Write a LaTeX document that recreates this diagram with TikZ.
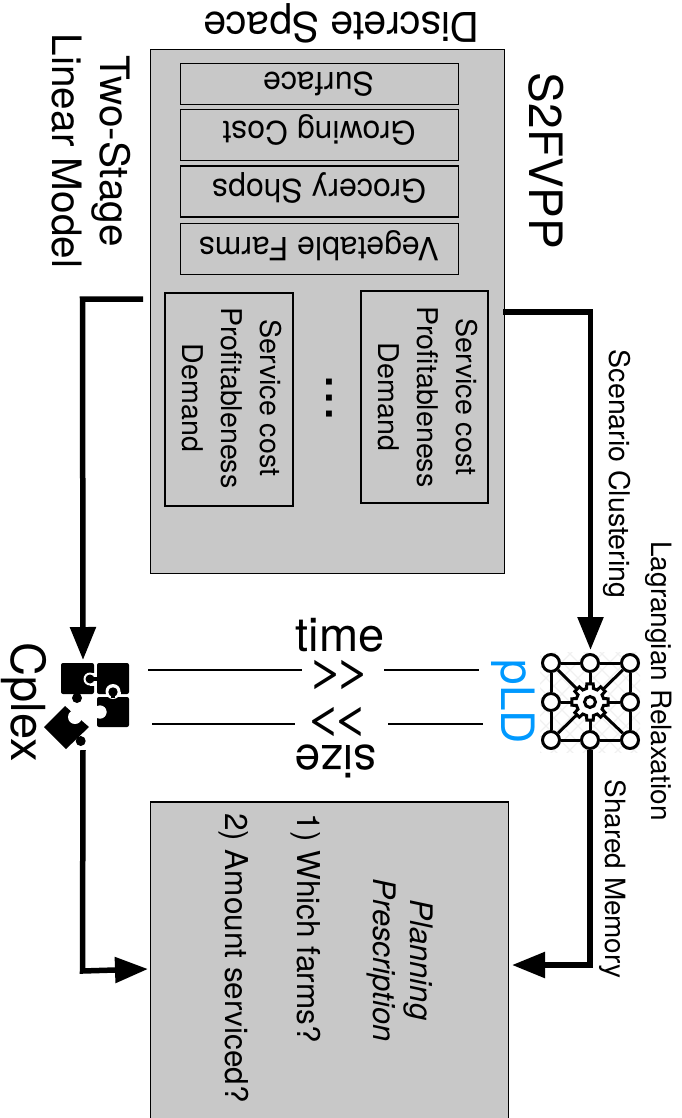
\documentclass[tikz,border=0pt]{standalone}
\usepackage{graphicx}
\usepackage{fontspec}
\setmainfont{TeX Gyre Heros}
\usetikzlibrary{arrows.meta}
\definecolor{boxgray}{RGB}{200,200,200}
\definecolor{pldblue}{RGB}{0,153,255}
\newcommand{\fs}[2]{\fontsize{#1}{#2}\selectfont}
\newcommand{\muchmore}{\scalebox{1.4}[1]{{>}\kern-8pt{>}}}
\tikzset{
  panel/.style={draw=black,line width=1.6pt,fill=boxgray,inner sep=0pt,outer sep=0pt,anchor=north west},
  strip/.style={panel},
  down/.style={rotate=-90,anchor=base,inner sep=0pt},
  flip/.style={rotate=180,anchor=base,inner sep=0pt},
  plain/.style={anchor=base,inner sep=0pt},
  flow/.style={line width=5.5pt,line join=miter,-{Triangle[length=33pt,width=25pt]}},
  rule/.style={line width=2pt},
  hub/.style={circle,draw=black,line width=3pt,fill=white,minimum size=17pt,inner sep=0pt},
  web/.style={line width=3pt},
  piece/.style={fill=black}
}
\begin{document}
\begin{tikzpicture}[x=1pt,y=-1pt]
\useasboundingbox (0,0) rectangle (681,1118);
\clip (0,0) rectangle (681,1118);
% panels
\node[panel,minimum width=354pt,minimum height=524pt] (main) at (150.5,49.5) {};
\node[strip,minimum width=278pt,minimum height=41pt] (s1) at (180.5,63.5) {};
\node[strip,minimum width=278pt,minimum height=51pt] (s2) at (180.5,109.5) {};
\node[strip,minimum width=278pt,minimum height=51pt] (s3) at (180.5,166) {};
\node[strip,minimum width=278pt,minimum height=51pt] (s4) at (180.5,223.5) {};
\node[strip,minimum width=127pt,minimum height=212pt] (sr) at (361,291) {};
\node[strip,minimum width=128pt,minimum height=213pt] (sl) at (165,293) {};
\node[panel,minimum width=358pt,minimum height=340pt] (out) at (150.5,802) {};
% flipped texts
\node[flip,font=\fs{41}{44}] (t1) at (341.5,13) {Discrete Space};
\node[flip,font=\fs{32}{38}] (t2) at (318.5,73) {Surface};
\node[flip,font=\fs{32}{38}] (t3) at (319,122) {Growing Cost};
\node[flip,font=\fs{32}{38}] (t4) at (319,179) {Grocery Shops};
\node[flip,font=\fs{32}{38}] (t5) at (319,237) {Vegetable Farms};
\node[flip,font=\fs{46}{50}] (t6) at (336,745) {size};
\node[flip,font=\fs{46}{50}] (t7) at (336,710) {\muchmore};
% rotated texts
\node[rotate=-90,align=center,inner sep=0pt,font=\fs{40.5}{48}] (t8) at (91,151) {Two-Stage\\Linear Model};
\node[down,font=\fs{46}{50}] (t9) at (529,161) {S2FVPP};
\node[rotate=-90,align=center,inner sep=0pt,font=\fs{28.6}{39}] (t10) at (428,397) {Service cost\\Profitableness\\Demand};
\node[rotate=-90,align=center,inner sep=0pt,font=\fs{28.6}{39}] (t11) at (232,398) {Service cost\\Profitableness\\Demand};
\node[down,font=\bfseries\fs{40}{44}] (t12) at (326,398) {.\hspace{5pt}.\hspace{5pt}.};
\node[down,font=\fs{28.5}{32}] (t13) at (609,474) {Scenario Clustering};
\node[down,font=\fs{28}{32}] (t14) at (651,681) {Lagrangian Relaxation};
\node[down,font=\fs{27.9}{32}] (t15) at (605,879) {Shared Memory};
\node[down,font=\fs{46}{50},text=pldblue] (t16) at (501,702) {pLD};
\node[down,font=\fs{47}{50}] (t17) at (12,702) {Cplex};
\node[rotate=-90,align=center,inner sep=0pt,font=\itshape\fs{31}{37}] (t18) at (400,960) {Planning\\Prescription};
\node[down,font=\fs{31.5}{36}] (t19) at (297,928) {1) Which farms?};
\node[down,font=\fs{31.5}{36}] (t20) at (225,958) {2) Amount serviced?};
% upright texts
\node[plain,font=\fs{47}{50}] (t21) at (340,651) {time};
\node[plain,font=\fs{46}{50}] (t22) at (340,686) {\muchmore};
% rules
\coordinate (ra1) at (148,670); \coordinate (ra2) at (302,670);
\coordinate (ra3) at (384,670); \coordinate (ra4) at (479,670);
\coordinate (rb1) at (152,724); \coordinate (rb2) at (295,724);
\coordinate (rb3) at (388,724); \coordinate (rb4) at (483,724);
\draw[rule] (ra1)--(ra2); \draw[rule] (ra3)--(ra4);
\draw[rule] (rb1)--(rb2); \draw[rule] (rb3)--(rb4);
% faint mesh behind network icon
\begin{scope}
\clip (540,652) rectangle (640,752);
\foreach \k in {-100,-84,...,100} {
  \draw[black!6,line width=1.2pt] (590+\k-60,702-60) -- (590+\k+60,702+60);
  \draw[black!6,line width=1.2pt] (590+\k+60,702-60) -- (590+\k-60,702+60);
}
\end{scope}
% network icon
\foreach \n/\x/\y in {a/551/663,b/590/663,c/630/663,d/551/702,e/630/702,f/551/740,g/590/740,h/630/740} {
  \node[hub] (\n) at (\x,\y) {};
}
\coordinate (gear) at (590,702);
\draw[web] (a)--(b); \draw[web] (b)--(c); \draw[web] (c)--(e); \draw[web] (e)--(h);
\draw[web] (h)--(g); \draw[web] (g)--(f); \draw[web] (f)--(d); \draw[web] (d)--(a);
\draw[web] (a)--(gear); \draw[web] (c)--(gear); \draw[web] (f)--(gear); \draw[web] (h)--(gear);
\draw[web] (b)--(gear); \draw[web] (d)--(gear); \draw[web] (e)--(gear); \draw[web] (g)--(gear);
\begin{scope}[shift={(590,702)}]
\draw[web,fill=white,line join=miter] (-14:14)
  \foreach \a in {0,45,...,315} { -- (\a-14:14) -- (\a-10:18.5) -- (\a+10:18.5) -- (\a+14:14) } -- cycle;
\node[circle,draw=black,line width=3pt,fill=white,minimum size=11pt,inner sep=0pt] (gearhub) at (0,0) {};
\end{scope}
% puzzle icon
\fill[piece,rounded corners=2pt] (61,663) rectangle (94,694);
\fill[piece,rounded corners=2pt] (97,663) rectangle (129,694);
\fill[piece,rounded corners=2pt] (97,697) rectangle (129,727);
\fill[piece] (77,698) circle (5);
\fill[white] (90,679) circle (6.5);
\fill[white] (90,672.5) rectangle (97,685.5);
\fill[piece] (90,679) circle (4.5);
\fill[piece] (90,677) rectangle (97.5,681);
\fill[white] (113,691.5) circle (7.5);
\fill[white] (105.5,691.5) rectangle (120.5,697);
\fill[piece] (113,692) circle (4.7);
\fill[piece] (111,692) rectangle (115,698);
\fill[white] (100,712) circle (6.5);
\fill[white] (95,707) rectangle (100,717);
\fill[piece] (44,727) -- (65,706) -- (89,727) -- (66,749) -- cycle;
\fill[white] (75,717) circle (7);
\fill[white] (67,706) -- (72,702) -- (84,714) -- (79,721) -- cycle;
\fill[white] (100,712) circle (6.5);
\fill[piece] (80.7,741) circle (5);
% connectors
\coordinate (a1) at (143,299); \coordinate (a2) at (82.5,299);
\coordinate (a3) at (83,660);
\coordinate (b1) at (83,750); \coordinate (b2) at (82.5,971);
\coordinate (b3) at (148,969);
\coordinate (c1) at (503,312); \coordinate (c2) at (590.5,312);
\coordinate (c3) at (590.5,650);
\coordinate (d1) at (590,750); \coordinate (d2) at (590,965);
\coordinate (d3) at (512,965);
\draw[flow] (a1) -- (a2) -- (a3);
\draw[flow] (b1) -- (b2) -- (b3);
\draw[flow] (c1) -- (c2) -- (c3);
\draw[flow] (d1) -- (d2) -- (d3);
\end{tikzpicture}
\end{document}
